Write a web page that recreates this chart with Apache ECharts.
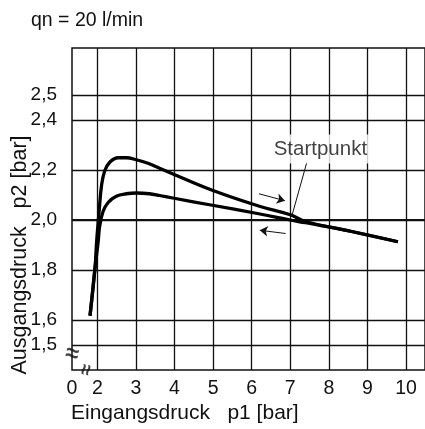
<!DOCTYPE html>
<html><head><meta charset="utf-8">
<script src="https://cdn.jsdelivr.net/npm/echarts@6/dist/echarts.min.js"></script>
<style>html,body{margin:0;padding:0;background:#fff}#c{width:425px;height:429px}</style>
</head><body><div id="c"></div>
<script>
// rising branch (p1 increasing)
const p1Up = [1.81,1.94,1.98,2.05,2.11,2.19,2.32,2.54,2.75,3.01,3.31,3.61,3.99,4.98,6.18,7.0,7.39,8.59,9.79];
const p2Up = [1.617,1.809,1.911,2.042,2.140,2.196,2.231,2.249,2.249,2.241,2.227,2.207,2.182,2.119,2.056,2.021,1.994,1.954,1.913];
// falling branch (p1 decreasing)
const p1Down = [1.81,1.94,2.02,2.06,2.15,2.28,2.49,2.75,3.01,3.35,3.61,3.99,4.98,6.18,7.0,7.39,8.59,9.79];
const p2Down = [1.617,1.809,1.911,1.975,2.035,2.070,2.095,2.105,2.108,2.105,2.098,2.087,2.059,2.025,2.0,1.989,1.954,1.913];

const xTickValues = [2,3,4,5,6,7,8,9,10];
const yTickValues = [1.5,1.6,1.8,2.0,2.2,2.4,2.5];
const xMin = 1.343, xMax = 10.492, yMin = 1.4, yMax = 2.688;
const xLabelValues = [xMin].concat(xTickValues);

// annotations
const startLabelPos = [7.78, 2.284];
const leaderLine = [[7.05, 2.021], [7.43, 2.231]];
const arrowRight = [[6.19, 2.105], [6.86, 2.077]];
const arrowLeft = [[6.88, 1.946], [6.21, 1.959]];
const yBreakPos = [xMin, 1.462];
const xBreakPos = [1.73, 1.4];

const FONT = '"Liberation Sans", Arial, sans-serif';
const INK = '#111';

const zip = (a, b) => a.map((v, i) => [v, b[i]]);
const chart = echarts.init(document.getElementById('c'));
chart.setOption({
  animation: false,
  backgroundColor: '#fff',
  title: [
    {text: 'qn = 20 l/min', left: 31, top: 11, padding: 0,
     textStyle: {fontFamily: FONT, fontSize: 19.5, fontWeight: 'normal', color: INK}},
    {text: 'Eingangsdruck   p1 [bar]', left: 71, top: 403, padding: 0,
     textStyle: {fontFamily: FONT, fontSize: 21, fontWeight: 'normal', color: INK}}
  ],
  graphic: [{
    type: 'text', x: 20, y: 255, rotation: Math.PI / 2,
    style: {text: 'Ausgangsdruck   p2 [bar]', fontFamily: FONT, fontSize: 21.5, fill: INK,
            align: 'center', verticalAlign: 'middle', textAlign: 'center', textVerticalAlign: 'middle'}
  }],
  grid: {left: 72, top: 48, right: -2, bottom: 59, show: true, borderColor: INK, borderWidth: 1.5},
  xAxis: {
    type: 'value', min: xMin, max: xMax,
    axisLine: {show: false},
    axisTick: {show: false, customValues: xTickValues},
    axisLabel: {customValues: xLabelValues, margin: 9,
      formatter: v => (v < 1.9 ? '0' : String(Math.round(v))),
      fontFamily: FONT, fontSize: 19.5, color: INK},
    splitLine: {show: true, lineStyle: {color: INK, width: 1.3}}
  },
  yAxis: {
    type: 'value', min: yMin, max: yMax,
    axisLine: {show: false},
    axisTick: {show: false, customValues: yTickValues},
    axisLabel: {customValues: yTickValues, margin: 15,
      formatter: v => v.toFixed(1).replace('.', ','),
      fontFamily: FONT, fontSize: 19, color: INK},
    splitLine: {show: true, lineStyle: {color: INK, width: 1.3}}
  },
  series: [
    {type: 'line', data: zip(p1Up, p2Up), smooth: 0.4, showSymbol: false,
     lineStyle: {color: '#000', width: 3.3}, z: 5,
     markLine: {silent: true, symbol: 'none', label: {show: false},
       lineStyle: {color: INK, width: 2.2, type: 'solid'},
       data: [{yAxis: 2.0}]}},
    {type: 'line', data: zip(p1Down, p2Down), smooth: 0.4, showSymbol: false,
     lineStyle: {color: '#000', width: 3.3}, z: 5},
    {type: 'scatter', data: [startLabelPos], symbolSize: 0, z: 10, silent: true,
     label: {show: true, position: 'inside', formatter: 'Startpunkt', fontFamily: FONT, fontSize: 20.5,
       color: INK, backgroundColor: '#fff', padding: [4, 6]},
     markLine: {silent: true, animation: false, label: {show: false},
       symbol: ['none', 'none'],
       lineStyle: {color: INK, width: 1, type: 'solid'},
       data: [
         [{coord: leaderLine[0]}, {coord: leaderLine[1]}],
         [{coord: arrowRight[0], symbol: 'none'}, {coord: arrowRight[1], symbol: 'arrow', symbolSize: 8}],
         [{coord: arrowLeft[0], symbol: 'none'}, {coord: arrowLeft[1], symbol: 'arrow', symbolSize: 8}]
       ]}},
    {type: 'scatter', data: [yBreakPos], symbolSize: 0, z: 10, silent: true, clip: false,
     label: {show: true, position: 'inside', formatter: '\u2248', fontFamily: FONT, fontSize: 24,
       fontWeight: 'bold', color: INK, rotate: -12}},
    {type: 'scatter', data: [xBreakPos], symbolSize: 0, z: 10, silent: true, clip: false,
     label: {show: true, position: 'inside', formatter: '\u2248', fontFamily: FONT, fontSize: 20,
       fontWeight: 'bold', color: INK, rotate: 78}}
  ]
});
</script></body></html>
